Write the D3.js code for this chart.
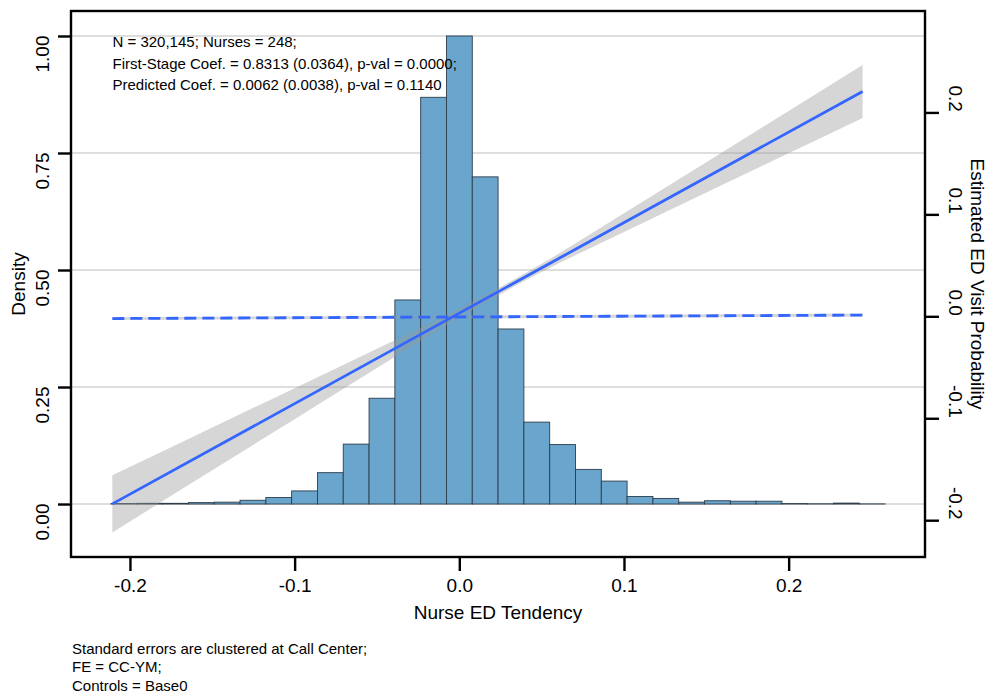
<!DOCTYPE html>
<html>
<head>
<meta charset="utf-8">
<script src="https://cdn.jsdelivr.net/npm/d3@7"></script>
<style>
    body { margin: 0; background: #fff; }
    svg text { font-family: "Liberation Sans", Arial, sans-serif; fill: #000; }
</style>
</head>
<body>
<svg></svg>
<script>
// histogram of nurse ED tendency (30 bins, density scaled to max 1)
const binMin = -0.2115;
const binWidth = 0.01567;
const density = [0.001, 0.0015, 0.0015, 0.003, 0.004, 0.008, 0.014, 0.028, 0.067, 0.128,
                 0.226, 0.436, 0.869, 1.0, 0.699, 0.374, 0.175, 0.127, 0.074, 0.049,
                 0.016, 0.012, 0.004, 0.007, 0.006, 0.006, 0.001, 0.0005, 0.002, 0.0003];

// first stage fit (right axis) and its confidence band
const fitX = [-0.2107, 0.2449];
const fitY = [-0.184, 0.2206];
const ciX = [-0.2107, -0.15, -0.1, -0.05, 0, 0.05, 0.1, 0.15, 0.2, 0.2449];
const ciLow = [-0.212, -0.151, -0.1009, -0.0508, -0.0012, 0.0434, 0.0827, 0.1214, 0.1599, 0.1946];
const ciHigh = [-0.156, -0.109, -0.0705, -0.0318, 0.0074, 0.0516, 0.1011, 0.1512, 0.2015, 0.2466];

// predicted (reduced form) fit, dashed
const predX = [-0.2107, 0.2449];
const predY = [-0.0022, 0.0012];
const predLow = [-0.0036, -0.0003];
const predHigh = [-0.0008, 0.0027];

const xTicks = [-0.2, -0.1, 0.0, 0.1, 0.2];
const densityTicks = [0, 0.25, 0.5, 0.75, 1.0];
const probTicks = [-0.2, -0.1, 0.0, 0.1, 0.2];

const noteLines = ["N = 320,145; Nurses = 248;",
                   "First-Stage Coef. = 0.8313 (0.0364), p-val = 0.0000;",
                   "Predicted Coef. = 0.0062 (0.0038), p-val = 0.1140"];
const captionLines = ["Standard errors are clustered at Call Center;",
                      "FE = CC-YM;",
                      "Controls = Base0"];

const W = 988, H = 694;
const pLeft = 71, pRight = 925, pTop = 11, pBottom = 557;
const fontSize = 19;

const svg = d3.select("svg").attr("width", W).attr("height", H);

const x = d3.scaleLinear().domain([-0.2358, 0.2828]).range([pLeft, pRight]);
const yL = d3.scaleLinear().domain([-0.1132, 1.0534]).range([pBottom, pTop]);
const yR = d3.scaleLinear().domain([-0.2361, 0.2995]).range([pBottom, pTop]);

// horizontal grid lines at the density ticks
svg.selectAll("line.grid")
    .data(densityTicks)
    .join("line")
    .attr("class", "grid")
    .attr("x1", pLeft).attr("x2", pRight)
    .attr("y1", d => yL(d)).attr("y2", d => yL(d))
    .attr("stroke", "#dedede")
    .attr("stroke-width", 2.2);

// histogram bars
svg.selectAll("rect.bar")
    .data(density)
    .join("rect")
    .attr("class", "bar")
    .attr("x", (d, i) => x(binMin + i * binWidth))
    .attr("width", (d, i) => x(binMin + (i + 1) * binWidth) - x(binMin + i * binWidth))
    .attr("y", d => yL(d))
    .attr("height", d => yL(0) - yL(d))
    .attr("fill", "#69a5cd")
    .attr("stroke", "#2e3d4c")
    .attr("stroke-width", 0.9);

// confidence bands
const band = d3.area()
    .x(d => x(d[0]))
    .y0(d => yR(d[1]))
    .y1(d => yR(d[2]))
    .curve(d3.curveMonotoneX);

svg.append("path")
    .datum(ciX.map((v, i) => [v, ciLow[i], ciHigh[i]]))
    .attr("d", band)
    .attr("fill", "#999999")
    .attr("fill-opacity", 0.4);

svg.append("path")
    .datum(predX.map((v, i) => [v, predLow[i], predHigh[i]]))
    .attr("d", band)
    .attr("fill", "#999999")
    .attr("fill-opacity", 0.4);

const line = d3.line().x(d => x(d[0])).y(d => yR(d[1]));

svg.append("path")
    .datum(fitX.map((v, i) => [v, fitY[i]]))
    .attr("d", line)
    .attr("fill", "none")
    .attr("stroke", "#3366ff")
    .attr("stroke-width", 2.8);

svg.append("path")
    .datum(predX.map((v, i) => [v, predY[i]]))
    .attr("d", line)
    .attr("fill", "none")
    .attr("stroke", "#3366ff")
    .attr("stroke-width", 2.8)
    .attr("stroke-dasharray", "12,6");

// plot box
svg.append("rect")
    .attr("x", pLeft).attr("y", pTop)
    .attr("width", pRight - pLeft).attr("height", pBottom - pTop)
    .attr("fill", "none")
    .attr("stroke", "#000")
    .attr("stroke-width", 2.4);

// axes
function styleAxis(g) {
    g.select(".domain").remove();
    g.selectAll(".tick line").attr("stroke", "#000").attr("stroke-width", 2.4);
    g.selectAll(".tick text")
        .attr("font-size", fontSize)
        .attr("font-family", "Liberation Sans, Arial, sans-serif")
        .attr("fill", "#000");
}

svg.append("g")
    .attr("transform", `translate(0,${pBottom})`)
    .call(d3.axisBottom(x).tickValues(xTicks).tickSize(14).tickPadding(8)
        .tickFormat(d => d.toFixed(1)))
    .call(styleAxis);

// left labels end at their tick (rotated, reading upwards)
svg.append("g")
    .attr("transform", `translate(${pLeft},0)`)
    .call(d3.axisLeft(yL).tickValues(densityTicks).tickSize(13)
        .tickFormat(d => d.toFixed(2)))
    .call(styleAxis)
    .call(g => g.selectAll(".tick text")
        .attr("transform", "rotate(-90)")
        .attr("text-anchor", "end")
        .attr("x", 1).attr("y", -29).attr("dy", "0.35em"));

// right labels end at their tick (rotated, reading downwards)
svg.append("g")
    .attr("transform", `translate(${pRight},0)`)
    .call(d3.axisRight(yR).tickValues(probTicks).tickSize(14)
        .tickFormat(d => d.toFixed(1)))
    .call(styleAxis)
    .call(g => g.selectAll(".tick text")
        .attr("transform", "rotate(90)")
        .attr("text-anchor", "end")
        .attr("x", -1).attr("y", -31).attr("dy", "0.35em"));

// axis titles
svg.append("text")
    .attr("x", (pLeft + pRight) / 2).attr("y", 618.5)
    .attr("text-anchor", "middle")
    .attr("font-size", fontSize)
    .text("Nurse ED Tendency");

svg.append("text")
    .attr("transform", `translate(18,${(pTop + pBottom) / 2}) rotate(-90)`)
    .attr("text-anchor", "middle")
    .attr("dy", "0.35em")
    .attr("font-size", fontSize)
    .text("Density");

svg.append("text")
    .attr("transform", `translate(978,${(pTop + pBottom) / 2}) rotate(90)`)
    .attr("text-anchor", "middle")
    .attr("dy", "0.35em")
    .attr("font-size", fontSize)
    .text("Estimated ED Visit Probability");

// annotation in the panel
svg.selectAll("text.note")
    .data(noteLines)
    .join("text")
    .attr("class", "note")
    .attr("x", 112.5)
    .attr("y", (d, i) => 47 + i * 21.6)
    .attr("font-size", 15)
    .text(d => d);

// caption below the chart
svg.selectAll("text.caption")
    .data(captionLines)
    .join("text")
    .attr("class", "caption")
    .attr("x", 72)
    .attr("y", (d, i) => 653.5 + i * 18.7)
    .attr("font-size", 15)
    .text(d => d);
</script>
</body>
</html>
